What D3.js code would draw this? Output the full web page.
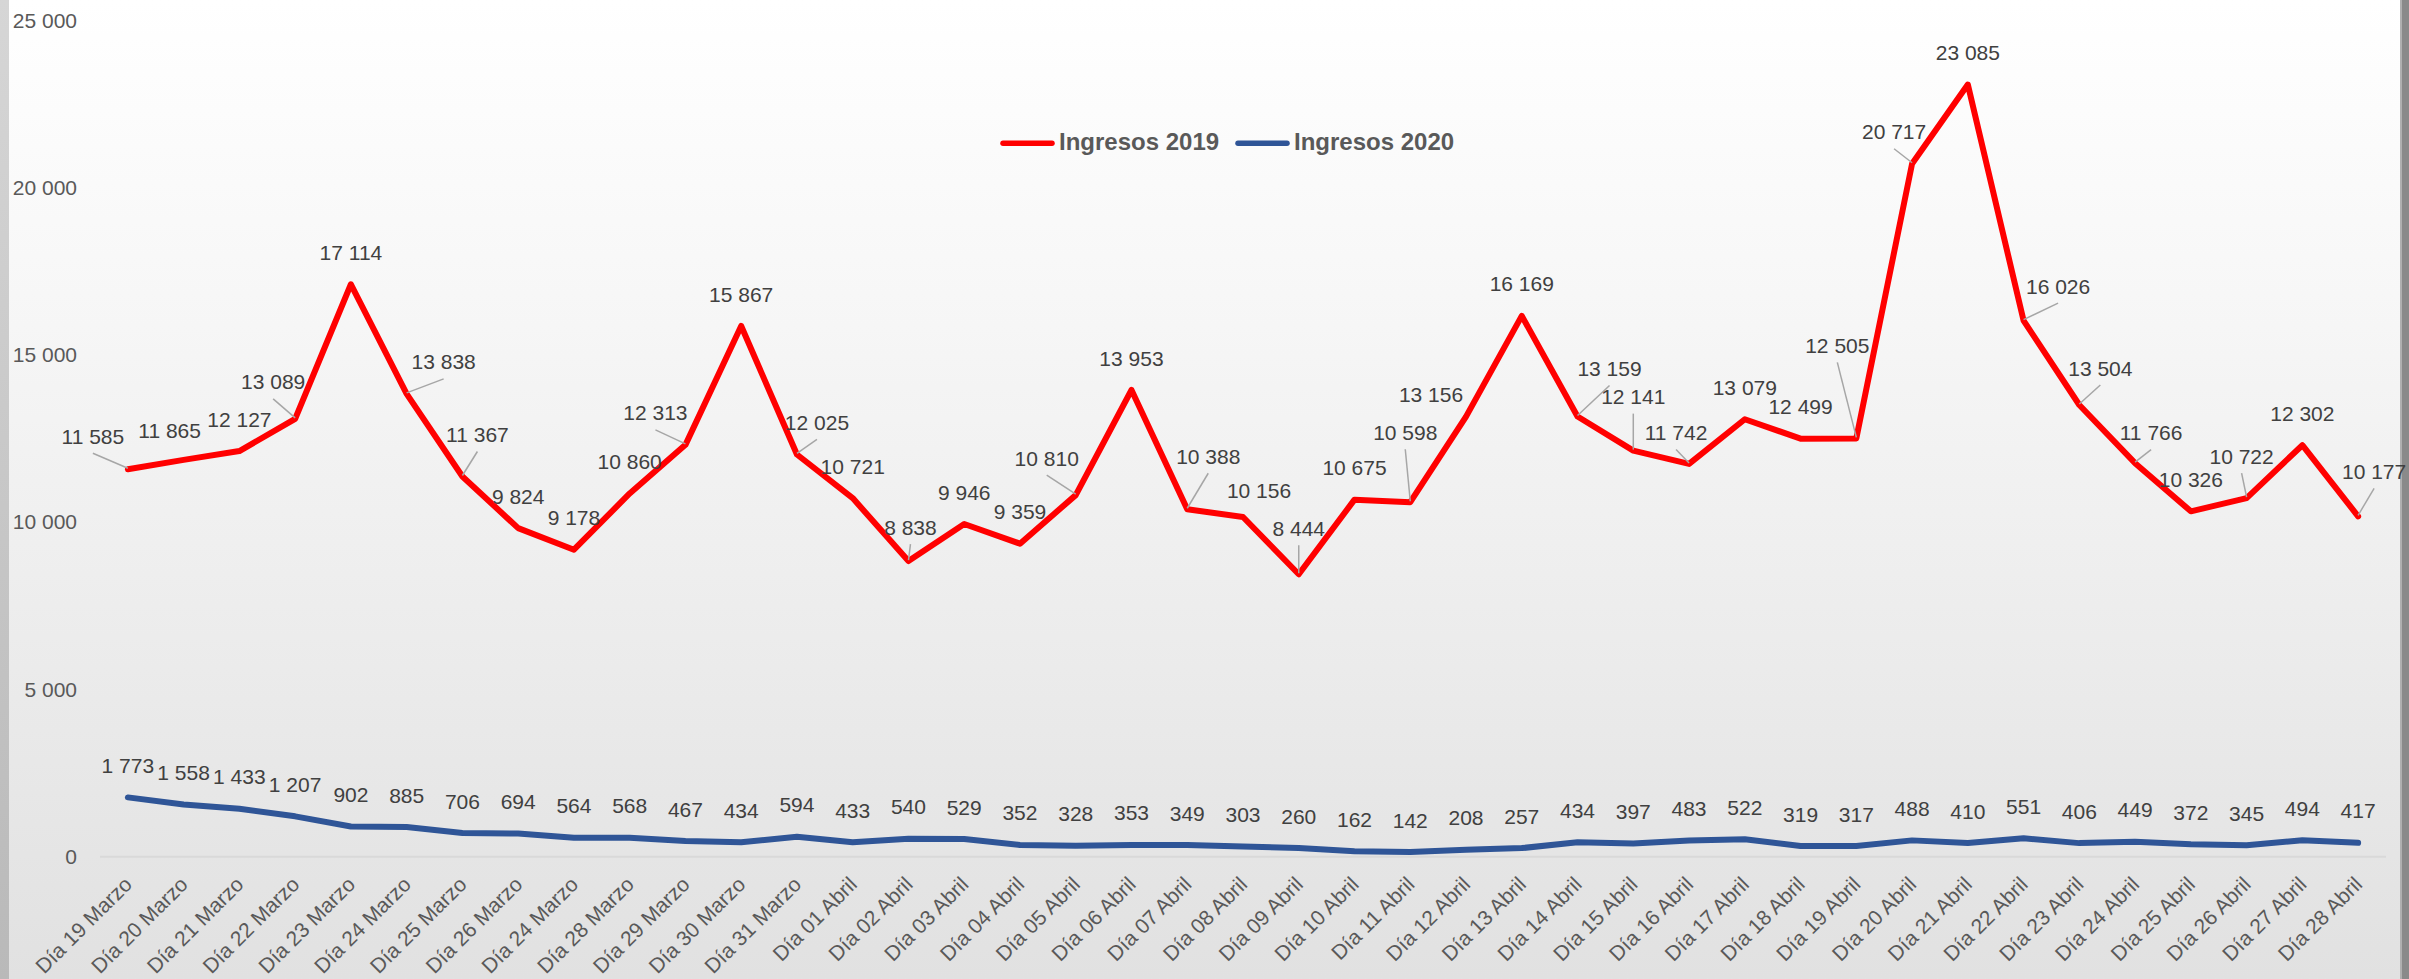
<!DOCTYPE html>
<html>
<head>
<meta charset="utf-8">
<script src="https://cdn.jsdelivr.net/npm/d3@7"></script>
<style>
  html, body { margin: 0; padding: 0; background: #ffffff; }
  svg { display: block; }
</style>
</head>
<body>
<svg id="chart" width="2409" height="979"></svg>
<script>
const categories = [
  "Día 19 Marzo","Día 20 Marzo","Día 21 Marzo","Día 22 Marzo","Día 23 Marzo","Día 24 Marzo",
  "Día 25 Marzo","Día 26 Marzo","Día 24 Marzo","Día 28 Marzo","Día 29 Marzo","Día 30 Marzo",
  "Día 31 Marzo","Día 01 Abril","Día 02 Abril","Día 03 Abril","Día 04 Abril","Día 05 Abril",
  "Día 06 Abril","Día 07 Abril","Día 08 Abril","Día 09 Abril","Día 10 Abril","Día 11 Abril",
  "Día 12 Abril","Día 13 Abril","Día 14 Abril","Día 15 Abril","Día 16 Abril","Día 17 Abril",
  "Día 18 Abril","Día 19 Abril","Día 20 Abril","Día 21 Abril","Día 22 Abril","Día 23 Abril",
  "Día 24 Abril","Día 25 Abril","Día 26 Abril","Día 27 Abril","Día 28 Abril"
];
const ingresos2019 = [
  11585, 11865, 12127, 13089, 17114, 13838, 11367, 9824, 9178, 10860, 12313, 15867,
  12025, 10721, 8838, 9946, 9359, 10810, 13953, 10388, 10156, 8444, 10675, 10598,
  13156, 16169, 13159, 12141, 11742, 13079, 12499, 12505, 20717, 23085, 16026, 13504,
  11766, 10326, 10722, 12302, 10177
];
const ingresos2020 = [
  1773, 1558, 1433, 1207, 902, 885, 706, 694, 564, 568, 467, 434,
  594, 433, 540, 529, 352, 328, 353, 349, 303, 260, 162, 142,
  208, 257, 434, 397, 483, 522, 319, 317, 488, 410, 551, 406,
  449, 372, 345, 494, 417
];
const seriesNames = ["Ingresos 2019", "Ingresos 2020"];
const yTickValues = [0, 5000, 10000, 15000, 20000, 25000];

// label placement (pixel nudges relative to each point) for the 2019 series
const labelNudge2019 = [
  [-35,-33],[-14,-29],[0,-32],[-22,-37],[0,-32],[37,-32],[15,-42],[0,-32],[0,-32],[0,-32],
  [-30,-32],[0,-32],[20,-32],[0,-32],[2,-34],[0,-32],[0,-32],[-29,-37],[0,-32],[21,-53],
  [16,-26.5],[0,-46],[0,-32],[-5,-70],[-35,-22],[0,-32],[32,-48],[0,-54],[-13,-31.5],[0,-32],
  [0,-32],[-19,-93],[-18,-32],[0,-32],[34.5,-34.6],[21,-37],[16,-30.6],[0,-32],[-5,-42],[0,-32],
  [16,-45]
];
const leaderIdx2019 = [0,3,5,6,10,12,14,17,19,21,23,26,27,28,31,32,34,35,36,38,40];

const W = 2409, H = 979;
const plot = { left: 100, right: 2386, top: 20.5, bottom: 856.7 };
const colors = { s2019: "#ff0000", s2020: "#2f5597" };
const FONT = "'Liberation Sans', Arial, sans-serif";

const locale = d3.formatLocale({ decimal: ",", thousands: " ", grouping: [3], currency: ["", ""] });
const fmt = locale.format(",d");

const svg = d3.select("#chart");
const defs = svg.append("defs");
const bg = defs.append("linearGradient").attr("id", "bg").attr("x1", 0).attr("y1", 0).attr("x2", 0).attr("y2", 1);
bg.append("stop").attr("offset", "0%").attr("stop-color", "#ffffff");
bg.append("stop").attr("offset", "30%").attr("stop-color", "#f7f7f7");
bg.append("stop").attr("offset", "100%").attr("stop-color", "#e1e1e1");
const lb = defs.append("linearGradient").attr("id", "lb").attr("x1", 0).attr("y1", 0).attr("x2", 0).attr("y2", 1);
lb.append("stop").attr("offset", "0%").attr("stop-color", "#d6d6d6");
lb.append("stop").attr("offset", "100%").attr("stop-color", "#b9b9b9");

svg.append("rect").attr("x", 0).attr("y", 0).attr("width", W).attr("height", H).attr("fill", "url(#bg)");
svg.append("rect").attr("x", 0).attr("y", 0).attr("width", 9).attr("height", H).attr("fill", "url(#lb)");
svg.append("rect").attr("x", 2400).attr("y", 0).attr("width", 2).attr("height", H).attr("fill", "#b0b0b0");
svg.append("rect").attr("x", 2402).attr("y", 0).attr("width", 7).attr("height", H).attr("fill", "#8a8a8a");

const x = d3.scalePoint().domain(d3.range(categories.length)).range([plot.left, plot.right]).padding(0.5);
const y = d3.scaleLinear().domain([0, 25000]).range([plot.bottom, plot.top]);

// baseline gridline
svg.append("line")
  .attr("x1", plot.left).attr("x2", plot.right)
  .attr("y1", y(0)).attr("y2", y(0))
  .attr("stroke", "#d9d9d9").attr("stroke-width", 2);

// Y axis
const yAxis = svg.append("g")
  .attr("transform", `translate(${plot.left},0)`)
  .call(d3.axisLeft(y).tickValues(yTickValues).tickSize(0).tickPadding(23).tickFormat(d => fmt(d)));
yAxis.select(".domain").remove();
yAxis.selectAll("text")
  .attr("fill", "#595959").style("font-family", FONT).style("font-size", "21px");

// X axis
const xAxis = svg.append("g")
  .attr("transform", `translate(0,${y(0)})`)
  .call(d3.axisBottom(x).tickSize(0).tickFormat(i => categories[i]));
xAxis.select(".domain").remove();
xAxis.selectAll("text")
  .attr("fill", "#595959").style("font-family", FONT).style("font-size", "21px")
  .attr("text-anchor", "end")
  .attr("x", 0).attr("y", 0).attr("dy", 0)
  .attr("transform", "translate(5,29) rotate(-45)");

// Lines
const line = d3.line().x((d, i) => x(i)).y(d => y(d));
svg.append("path").datum(ingresos2020)
  .attr("d", line).attr("fill", "none").attr("stroke", colors.s2020)
  .attr("stroke-width", 6).attr("stroke-linejoin", "round").attr("stroke-linecap", "round");
svg.append("path").datum(ingresos2019)
  .attr("d", line).attr("fill", "none").attr("stroke", colors.s2019)
  .attr("stroke-width", 6).attr("stroke-linejoin", "round").attr("stroke-linecap", "round");

// Leader lines for 2019
svg.append("g").selectAll("line").data(leaderIdx2019).join("line")
  .attr("x1", i => x(i) + labelNudge2019[i][0])
  .attr("y1", i => y(ingresos2019[i]) + labelNudge2019[i][1] + 17)
  .attr("x2", i => x(i))
  .attr("y2", i => y(ingresos2019[i]) - 1)
  .attr("stroke", "#a6a6a6").attr("stroke-width", 1.5);

// Data labels
const labelStyle = sel => sel
  .attr("text-anchor", "middle").attr("dy", "0.36em")
  .attr("fill", "#404040").style("font-family", FONT).style("font-size", "21px");

svg.append("g").selectAll("text").data(ingresos2019).join("text")
  .attr("x", (d, i) => x(i) + labelNudge2019[i][0])
  .attr("y", (d, i) => y(d) + labelNudge2019[i][1])
  .text(d => fmt(d))
  .call(labelStyle);

svg.append("g").selectAll("text").data(ingresos2020).join("text")
  .attr("x", (d, i) => x(i))
  .attr("y", d => y(d) - 32)
  .text(d => fmt(d))
  .call(labelStyle);

// Legend
const legend = svg.append("g");
const legendItems = [
  { name: seriesNames[0], color: colors.s2019, x0: 1000 },
  { name: seriesNames[1], color: colors.s2020, x0: 1235 }
];
legendItems.forEach(it => {
  legend.append("line")
    .attr("x1", it.x0 + 3).attr("x2", it.x0 + 52)
    .attr("y1", 143.3).attr("y2", 143.3)
    .attr("stroke", it.color).attr("stroke-width", 5.5).attr("stroke-linecap", "round");
  legend.append("text")
    .attr("x", it.x0 + 59).attr("y", 150)
    .attr("fill", "#595959").style("font-family", FONT).style("font-size", "24px").style("font-weight", "bold")
    .text(it.name);
});
</script>
</body>
</html>
